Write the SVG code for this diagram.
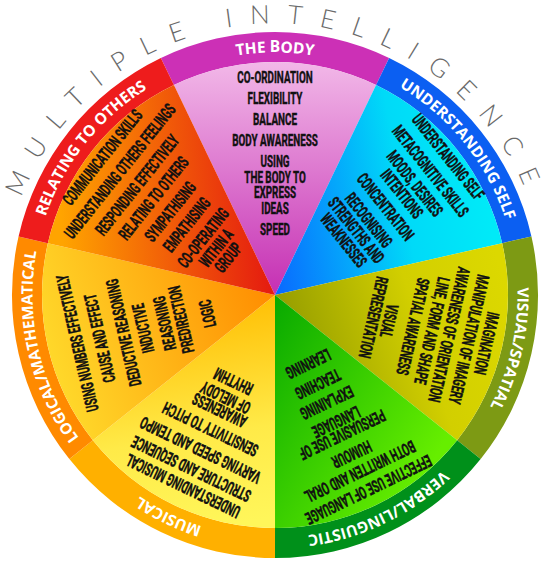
<svg xmlns="http://www.w3.org/2000/svg" xmlns:xlink="http://www.w3.org/1999/xlink" width="550" height="567" viewBox="0 0 550 567">
<defs>
<style>
.it{font-family:Roboto,"Liberation Sans",sans-serif;font-weight:700;font-size:17px;fill:#111;stroke:#111;stroke-width:0.45px;text-anchor:middle}
.lb{font-family:"Open Sans","DejaVu Sans",sans-serif;font-weight:700;font-size:15.5px;fill:#fff;text-anchor:middle}
.ti{font-family:Lato,"Open Sans",sans-serif;font-weight:300;font-size:26px;fill:#6a6a6a;letter-spacing:17px}
</style>
<path id="wedge" d="M275,295 L173.9,85.1 A233,233 0 0 1 376.1,85.1 Z"/>
<path id="ring" d="M160.9,58 A263,263 0 0 1 389.1,58 L376.1,85.1 A233,233 0 0 0 173.9,85.1 Z"/>
<path id="lblpath" d="M275,537.5 A242.5,242.5 0 1 1 275,52.5 A242.5,242.5 0 1 1 275,537.5"/>
<path id="titlepath" d="M21.5,197.7 A271.5,271.5 0 0 1 542.4,247.9"/>
<linearGradient id="gBody" gradientUnits="userSpaceOnUse" x1="275" y1="62" x2="275" y2="295"><stop offset="0" stop-color="#f2b8e8"/><stop offset="1" stop-color="#c52fb3"/></linearGradient>
<linearGradient id="gSelf" gradientUnits="userSpaceOnUse" x1="350" y1="80" x2="240" y2="285"><stop offset="0" stop-color="#00eaf8"/><stop offset="0.35" stop-color="#00daf8"/><stop offset="1" stop-color="#0a62ff"/></linearGradient>
<linearGradient id="gVis" gradientUnits="userSpaceOnUse" x1="200" y1="80" x2="320" y2="285"><stop offset="0" stop-color="#dcd800"/><stop offset="0.4" stop-color="#d2cf00"/><stop offset="1" stop-color="#8f9800"/></linearGradient>
<linearGradient id="gVerb" gradientUnits="userSpaceOnUse" x1="200" y1="80" x2="330" y2="280"><stop offset="0" stop-color="#66ee00"/><stop offset="1" stop-color="#00a400"/></linearGradient>
<linearGradient id="gMus" gradientUnits="userSpaceOnUse" x1="200" y1="80" x2="330" y2="270"><stop offset="0" stop-color="#fff65a"/><stop offset="0.4" stop-color="#ffea48"/><stop offset="1" stop-color="#ffbc00"/></linearGradient>
<linearGradient id="gLog" gradientUnits="userSpaceOnUse" x1="260" y1="62" x2="285" y2="295"><stop offset="0" stop-color="#ffd82a"/><stop offset="1" stop-color="#ff8c00"/></linearGradient>
<linearGradient id="gRel" gradientUnits="userSpaceOnUse" x1="190" y1="90" x2="330" y2="250"><stop offset="0" stop-color="#ffa400"/><stop offset="1" stop-color="#e41810"/></linearGradient>
</defs>
<rect width="550" height="567" fill="#fff"/>

<g id="title"><text class="ti"><textPath xlink:href="#titlepath" href="#titlepath">MULTIPLE INTELLIGENCE</textPath></text></g>

<g id="the-body">
<g transform="rotate(0 275 295)">
<use href="#ring" fill="#cc30b6"/>
<use href="#wedge" fill="url(#gBody)"/>
<text class="it" transform="translate(275 82.7) scale(0.58 1)">CO-ORDINATION</text>
<text class="it" transform="translate(275 104.3) scale(0.58 1)">FLEXIBILITY</text>
<text class="it" transform="translate(275 125.3) scale(0.58 1)">BALANCE</text>
<text class="it" transform="translate(275 146) scale(0.58 1)">BODY AWARENESS</text>
<text class="it" transform="translate(275 167) scale(0.58 1)">USING</text>
<text class="it" transform="translate(275 182.7) scale(0.58 1)">THE BODY TO</text>
<text class="it" transform="translate(275 198.3) scale(0.58 1)">EXPRESS</text>
<text class="it" transform="translate(275 213.7) scale(0.58 1)">IDEAS</text>
<text class="it" transform="translate(275 235) scale(0.58 1)">SPEED</text>
</g>
<text class="lb"><textPath href="#lblpath" startOffset="50%">THE BODY</textPath></text>
</g>

<g id="understanding-self">
<g transform="rotate(51.43 275 295)">
<use href="#ring" fill="#0b5ff2"/>
<use href="#wedge" fill="url(#gSelf)"/>
<text class="it" transform="translate(275 79.5) scale(0.58 1)">UNDERSTANDING SELF</text>
<text class="it" transform="translate(275 102) scale(0.58 1)">METACOGNITIVE SKILLS</text>
<text class="it" transform="translate(275 122) scale(0.58 1)">MOODS, DESIRES</text>
<text class="it" transform="translate(275 138.5) scale(0.58 1)">INTENTIONS</text>
<text class="it" transform="translate(275 159.5) scale(0.58 1)">CONCENTRATION</text>
<text class="it" transform="translate(275 181) scale(0.58 1)">RECOGNISING</text>
<text class="it" transform="translate(275 197) scale(0.58 1)">STRENGTHS AND</text>
<text class="it" transform="translate(275 213) scale(0.58 1)">WEAKNESSES</text>
</g>
<text class="lb"><textPath href="#lblpath" startOffset="64.29%">UNDERSTANDING SELF</textPath></text>
</g>

<g id="visual-spatial">
<g transform="rotate(102.86 275 295)">
<use href="#ring" fill="#7d9a14"/>
<use href="#wedge" fill="url(#gVis)"/>
<text class="it" transform="translate(275 84) scale(0.58 1)">IMAGINATION</text>
<text class="it" transform="translate(275 102) scale(0.58 1)">MANIPULATION OF IMAGERY</text>
<text class="it" transform="translate(275 122.5) scale(0.58 1)">AWARENESS OF ORIENTATION</text>
<text class="it" transform="translate(275 140) scale(0.58 1)">LINE, FORM AND SHAPE</text>
<text class="it" transform="translate(275 159.5) scale(0.58 1)">SPATIAL AWARENESS</text>
<text class="it" transform="translate(275 184) scale(0.58 1)">VISUAL</text>
<text class="it" transform="translate(275 200) scale(0.58 1)">REPRESENTATION</text>
</g>
<text class="lb"><textPath href="#lblpath" startOffset="78.57%">VISUAL/SPATIAL</textPath></text>
</g>

<g id="verbal-linguistic">
<g transform="rotate(154.29 275 295)">
<use href="#ring" fill="#00901a"/>
<use href="#wedge" fill="url(#gVerb)"/>
<text class="it" transform="translate(275 85) scale(0.58 1)">EFFECTIVE USE OF LANGUAGE</text>
<text class="it" transform="translate(275 105) scale(0.58 1)">BOTH WRITTEN AND ORAL</text>
<text class="it" transform="translate(275 124) scale(0.58 1)">HUMOUR</text>
<text class="it" transform="translate(275 146) scale(0.58 1)">PERSUASIVE USE OF</text>
<text class="it" transform="translate(275 160) scale(0.58 1)">LANGUAGE</text>
<text class="it" transform="translate(275 181.5) scale(0.58 1)">EXPLAINING</text>
<text class="it" transform="translate(275 202) scale(0.58 1)">TEACHING</text>
<text class="it" transform="translate(275 224.5) scale(0.58 1)">LEARNING</text>
</g>
<text class="lb"><textPath href="#lblpath" startOffset="92.86%">VERBAL/LINGUISTIC</textPath></text>
</g>

<g id="musical">
<g transform="rotate(205.71 275 295)">
<use href="#ring" fill="#ffb000"/>
<use href="#wedge" fill="url(#gMus)"/>
<text class="it" transform="translate(275 89) scale(0.58 1)">UNDERSTANDING MUSICAL</text>
<text class="it" transform="translate(275 108) scale(0.58 1)">STRUCTURE AND SEQUENCE</text>
<text class="it" transform="translate(275 129) scale(0.58 1)">VARYING SPEED AND TEMPO</text>
<text class="it" transform="translate(275 152) scale(0.58 1)">SENSITIVITY TO PITCH</text>
<text class="it" transform="translate(275 173) scale(0.58 1)">AWARENESS</text>
<text class="it" transform="translate(275 187) scale(0.58 1)">OF MELODY</text>
<text class="it" transform="translate(275 205) scale(0.58 1)">RHYTHM</text>
</g>
<text class="lb"><textPath href="#lblpath" startOffset="7.14%">MUSICAL</textPath></text>
</g>

<g id="logical-mathematical">
<g transform="rotate(257.14 275 295)">
<use href="#ring" fill="#ff8a00"/>
<use href="#wedge" fill="url(#gLog)"/>
<text class="it" transform="translate(272 97.5) scale(0.58 1)">USING NUMBERS EFFECTIVELY</text>
<text class="it" transform="translate(272 120.5) scale(0.58 1)">CAUSE AND EFFECT</text>
<text class="it" transform="translate(272 145) scale(0.58 1)">DEDUCTIVE REASONING</text>
<text class="it" transform="translate(272 165) scale(0.58 1)">INDUCTIVE</text>
<text class="it" transform="translate(272 187) scale(0.58 1)">REASONING</text>
<text class="it" transform="translate(272 204) scale(0.58 1)">PREDIRECTION</text>
<text class="it" transform="translate(272 231) scale(0.58 1)">LOGIC</text>
</g>
<text class="lb"><textPath href="#lblpath" startOffset="21.43%">LOGICAL/MATHEMATICAL</textPath></text>
</g>

<g id="relating-to-others">
<g transform="rotate(-51.43 275 295)">
<use href="#ring" fill="#ee1c1c"/>
<use href="#wedge" fill="url(#gRel)"/>
<text class="it" transform="translate(275 80) scale(0.58 1)">COMMUNICATION SKILLS</text>
<text class="it" transform="translate(275 102.5) scale(0.58 1)">UNDERSTANDING OTHERS FEELINGS</text>
<text class="it" transform="translate(275 124.5) scale(0.58 1)">RESPONDING EFFECTIVELY</text>
<text class="it" transform="translate(275 145.5) scale(0.58 1)">RELATING TO OTHERS</text>
<text class="it" transform="translate(275 167) scale(0.58 1)">SYMPATHISING</text>
<text class="it" transform="translate(275 188) scale(0.58 1)">EMPATHISING</text>
<text class="it" transform="translate(275 209) scale(0.58 1)">CO-OPERATING</text>
<text class="it" transform="translate(275 225.5) scale(0.58 1)">WITHIN A</text>
<text class="it" transform="translate(275 241) scale(0.58 1)">GROUP</text>
</g>
<text class="lb"><textPath href="#lblpath" startOffset="35.71%">RELATING TO OTHERS</textPath></text>
</g>
</svg>
